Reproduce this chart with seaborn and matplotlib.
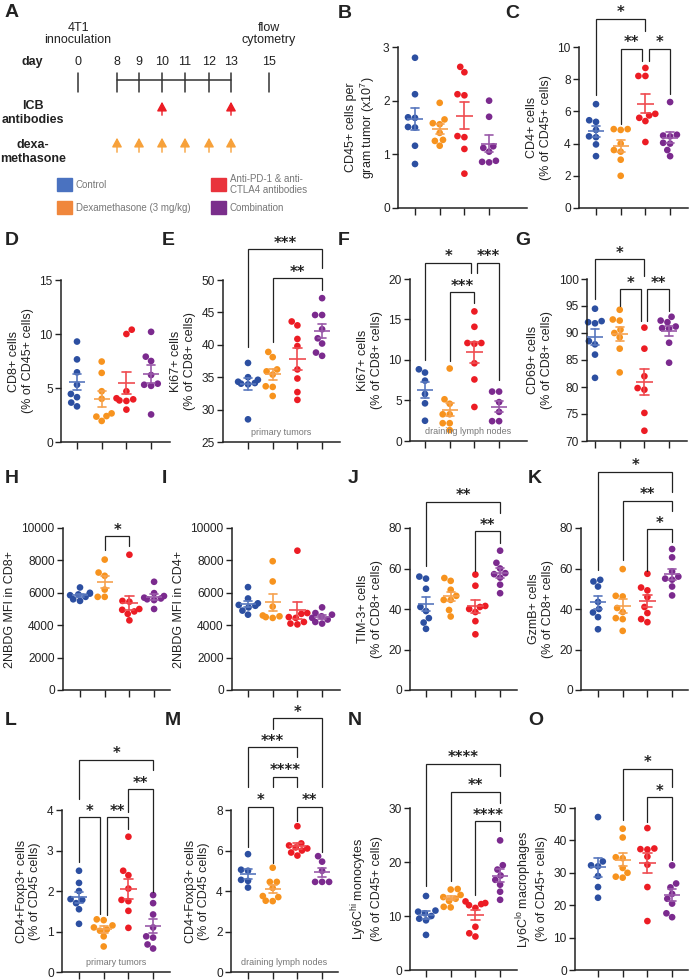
import numpy as np
import pandas as pd
import matplotlib
matplotlib.use("Agg")
import matplotlib.pyplot as plt
import seaborn as sns

sns.set_style("ticks")
plt.rcParams["font.family"] = ["Liberation Sans", "DejaVu Sans"]
plt.rcParams["mathtext.default"] = "regular"

groups = ["Control", "Dexamethasone", "Antibodies", "Combination"]
dot_colors = ["#2c4fa1", "#f7931e", "#ec1c24", "#7b2a8e"]
bar_colors = ["#5877bd", "#f6a24f", "#ef4b50", "#9a5aa9"]
key_colors = ["#4a72c0", "#f0873c", "#e9333c", "#7a2e8b"]

# ---- panel A schedule
days = [0, 8, 9, 10, 11, 12, 13, 15]
icb_days = [10, 13]
dex_days = [8, 9, 10, 11, 12, 13]
key_labels = ["Control", "Dexamethasone (3 mg/kg)",
              "Anti-PD-1 & anti-\nCTLA4 antibodies", "Combination"]

# ---- values per group: control, dex, antibodies, combination
cd45 = [[2.80, 2.12, 1.69, 1.68, 1.51, 1.50, 1.16, 0.82],
        [1.96, 1.65, 1.58, 1.56, 1.40, 1.27, 1.25, 1.16],
        [2.63, 2.53, 2.12, 2.10, 1.34, 1.32, 1.10, 0.64],
        [2.00, 1.70, 1.15, 1.12, 1.05, 0.88, 0.86, 0.85]]
cd4 = [[6.45, 5.45, 5.35, 4.85, 4.45, 4.40, 3.95, 3.22],
       [4.90, 4.90, 4.85, 4.00, 3.60, 3.50, 3.00, 2.00],
       [8.70, 8.20, 8.20, 5.85, 5.75, 5.60, 5.40, 4.10],
       [6.58, 4.55, 4.50, 4.45, 4.05, 4.00, 3.60, 3.22]]
cd8 = [[9.30, 7.65, 6.45, 5.30, 4.45, 4.15, 3.65, 3.30],
       [7.45, 6.40, 4.70, 4.00, 2.65, 2.40, 2.35, 1.95],
       [10.4, 10.0, 4.70, 4.05, 3.95, 3.85, 3.80, 3.00],
       [10.2, 7.90, 7.50, 6.20, 5.40, 5.30, 5.20, 2.55]]
ki67_tumor = [[37.2, 35.0, 34.6, 34.3, 34.1, 34.0, 33.9, 28.5],
              [38.9, 38.1, 36.2, 35.9, 35.4, 33.6, 33.5, 32.1],
              [43.6, 43.0, 40.9, 39.8, 36.2, 34.8, 32.7, 31.5],
              [47.2, 44.6, 44.6, 42.4, 41.0, 40.2, 38.8, 38.3]]
ki67_ln = [[8.45, 8.85, 7.45, 5.80, 4.65, 2.50],
           [8.95, 5.15, 4.60, 3.30, 3.30, 2.20, 2.20, 1.35],
           [16.0, 14.1, 12.1, 12.1, 12.0, 9.60, 7.60, 4.20],
           [6.10, 6.10, 4.80, 3.60, 2.45, 2.45]]
cd69 = [[94.5, 92.2, 92.0, 91.8, 88.5, 87.9, 86.0, 81.7],
        [94.3, 92.5, 92.3, 90.6, 90.0, 89.2, 87.1, 82.7],
        [91.0, 87.1, 82.0, 79.8, 79.5, 75.2, 71.9],
        [93.0, 92.3, 92.0, 91.2, 90.9, 90.8, 88.2, 84.5]]
nbdg_cd8 = [[6330, 6000, 5950, 5900, 5850, 5750, 5600, 5500],
            [8050, 7250, 7050, 6200, 5750, 5750],
            [8350, 5500, 5450, 5000, 4950, 4850, 4700, 4300],
            [6680, 5980, 5800, 5700, 5650, 5600, 5550, 5000]]
nbdg_cd4 = [[6350, 5650, 5350, 5250, 5200, 5100, 4900, 4650],
            [7950, 6700, 5150, 4600, 4550, 4500, 4450],
            [8600, 4750, 4700, 4500, 4450, 4200, 4100, 4050],
            [5100, 4750, 4650, 4550, 4450, 4350, 4200, 4100]]
tim3 = [[56.0, 55.0, 50.0, 41.0, 39.0, 35.5, 33.3, 30.2],
        [55.3, 53.9, 49.5, 46.5, 44.5, 44.5, 39.5, 36.3],
        [57.0, 51.5, 41.5, 41.0, 40.0, 38.5, 34.0, 27.5],
        [68.8, 62.8, 60.0, 57.7, 57.2, 55.5, 52.0, 47.8]]
gzmb = [[54.4, 53.6, 51.1, 43.5, 40.0, 38.3, 36.0, 30.0],
        [59.7, 46.5, 46.2, 40.5, 38.5, 35.5, 35.0, 29.2],
        [57.4, 50.6, 49.2, 45.9, 41.0, 38.0, 35.0, 33.5],
        [69.6, 65.5, 58.5, 56.0, 55.0, 54.5, 51.1, 46.7]]
treg_tumor = [[2.50, 2.20, 2.00, 1.80, 1.78, 1.70, 1.55, 1.19],
              [1.30, 1.28, 1.15, 1.10, 1.05, 1.02, 0.88, 0.63],
              [3.34, 2.50, 2.39, 2.06, 1.78, 1.75, 1.51, 1.09],
              [1.90, 1.70, 1.42, 1.10, 0.88, 0.85, 0.68, 0.58]]
treg_ln = [[5.82, 5.05, 5.00, 4.55, 4.50, 4.17],
           [5.15, 4.45, 4.45, 4.15, 3.75, 3.70, 3.52, 3.50],
           [7.20, 6.35, 6.25, 6.15, 6.10, 6.00, 5.90, 5.75],
           [5.72, 5.45, 5.00, 4.45, 4.45, 4.45]]
ly6c_hi = [[13.7, 11.0, 10.8, 10.5, 10.0, 9.5, 9.2, 6.5],
           [15.0, 14.9, 13.9, 13.5, 13.2, 12.8, 11.7, 11.6],
           [12.7, 12.4, 12.2, 12.0, 11.5, 8.0, 6.8, 6.2],
           [24.0, 19.4, 18.6, 17.5, 16.7, 15.8, 14.5, 13.0]]
ly6c_lo = [[47.2, 33.5, 32.3, 32.0, 29.0, 25.6, 22.3],
           [43.6, 40.9, 34.8, 34.5, 31.5, 30.0, 28.8, 28.5],
           [43.8, 37.5, 37.3, 37.2, 35.0, 32.5, 25.6, 15.1],
           [32.3, 26.7, 25.5, 23.5, 22.0, 20.5, 17.5, 16.3]]

# significance brackets: (label, from group, to group, top, left leg end, right leg end)
sig_c = [("*", 0, 2, 11.75, 7.0, 11.0), ("**", 1, 1.87, 9.9, 5.2, 9.15),
         ("*", 2.13, 3, 9.9, 9.15, 7.1)]
sig_e = [("***", 0, 3, 54.8, 39.7, 51.9), ("**", 1, 3, 50.3, 40.5, 48.5)]
sig_f = [("*", 0, 1.87, 22.0, 10.0, 20.7), ("***", 2.12, 3, 22.0, 20.7, 7.5),
         ("***", 1, 2, 18.35, 9.9, 17.0)]
sig_g = [("*", 0, 2, 103.7, 96.3, 100.5), ("*", 1, 1.88, 98.1, 95.0, 92.2),
         ("**", 2.12, 3, 98.1, 92.2, 94.1)]
sig_h = [("*", 1, 2, 9485, 8660, 8870)]
sig_j = [("**", 0, 3, 92.9, 61.0, 87.4), ("**", 2, 3, 78.4, 58.6, 72.6)]
sig_k = [("*", 0, 3, 107.8, 59.3, 97.9), ("**", 1, 3, 93.5, 64.2, 88.5),
         ("*", 2, 3, 79.4, 58.8, 73.2)]
sig_l = [("*", 0, 3, 5.24, 4.26, 4.99), ("**", 2, 3, 4.52, 3.95, 1.98),
         ("*", 0, 0.85, 3.82, 2.72, 1.44), ("**", 1.12, 2, 3.82, 1.40, 3.52)]
sig_m = [("*", 1, 3, 12.52, 11.98, 9.16), ("***", 0, 2, 11.09, 9.16, 10.64),
         ("****", 1, 2, 9.65, 9.16, 9.16), ("*", 0, 1, 8.17, 6.19, 5.4),
         ("**", 2, 3, 8.17, 7.47, 5.94)]
sig_n = [("****", 0, 3, 38.2, 15.5, 35.9), ("**", 1, 3, 33.0, 16.4, 30.9),
         ("****", 2, 3, 27.6, 13.9, 25.7)]
sig_o = [("*", 1, 3, 62.1, 46.2, 56.5), ("*", 2, 3, 53.4, 45.7, 33.9)]

W, H = 690, 980
fig = plt.figure(figsize=(W / 100, H / 100), dpi=100)
ink = "#222222"
grey = "#777777"

# full-figure overlay in pixel coordinates (panel A and letters)
ov = fig.add_axes([0, 0, 1, 1])
ov.set_xlim(0, W)
ov.set_ylim(H, 0)
ov.axis("off")

# ---- panel A
day_px = [78, 117, 139, 162, 185, 209, 231, 269]
xpos = dict(zip(days, day_px))
ov.text(78, 34, "4T1\ninnoculation", ha="center", va="center", fontsize=9, color=ink, linespacing=1.1)
ov.text(269, 34, "flow\ncytometry", ha="center", va="center", fontsize=9, color=ink, linespacing=1.1)
ov.text(32, 62, "day", ha="center", va="center", fontsize=9, weight="bold", color=ink)
for d in days:
    ov.text(xpos[d], 62, str(d), ha="center", va="center", fontsize=9, color=ink)
    ov.plot([xpos[d], xpos[d]], [73, 92], color="#333333", lw=1.1)
ov.plot([xpos[8], xpos[13]], [80, 80], color="#333333", lw=1.1)
ov.text(33, 113, "ICB\nantibodies", ha="center", va="center", fontsize=9, weight="bold", color=ink, linespacing=1.15)
ov.text(33, 152, "dexa-\nmethasone", ha="center", va="center", fontsize=9, weight="bold", color=ink, linespacing=1.15)
for d in icb_days:
    ov.annotate("", xy=(xpos[d], 99), xytext=(xpos[d], 118),
                arrowprops=dict(arrowstyle="-|>,head_length=0.55,head_width=0.3", color="#ec1c24", lw=1.0))
for d in dex_days:
    ov.annotate("", xy=(xpos[d], 135), xytext=(xpos[d], 155),
                arrowprops=dict(arrowstyle="-|>,head_length=0.55,head_width=0.3", color="#f7a13a", lw=1.0))
key_pos = [(57, 178), (57, 201), (211, 178), (211, 201)]
for (kx, ky), kc, kl in zip(key_pos, key_colors, key_labels):
    ov.add_patch(plt.Rectangle((kx, ky), 15, 13, color=kc))
    ov.text(kx + 19, ky + 6.5, kl, ha="left", va="center", fontsize=7, color=grey, linespacing=1.15)

letters = {"A": (5, 17), "B": (338, 18), "C": (505, 18), "D": (5, 245), "E": (162, 245),
           "F": (338, 245), "G": (515, 245), "H": (5, 483), "I": (162, 483), "J": (348, 483),
           "K": (528, 483), "L": (5, 725), "M": (165, 725), "N": (348, 725), "O": (528, 725)}
for k, (lx, ly) in letters.items():
    ov.text(lx, ly, k, ha="left", va="baseline", fontsize=14, weight="bold", color=ink)

# ---- scatter panels
step = 24.7
layout = {  # y-axis x, first tick x, axis end x, top y, bottom y (pixels)
    "B": (398, 415, 527, 47, 208), "C": (579, 596, 688, 47, 208),
    "D": (61, 77, 170, 280, 442), "E": (223, 248, 340, 280, 442),
    "F": (410, 425, 527, 279, 441), "G": (587, 595, 687, 279, 441),
    "H": (63, 80, 170, 528, 690), "I": (232, 248, 340, 528, 690),
    "J": (410, 426, 517, 528, 690), "K": (581, 598, 688, 528, 690),
    "L": (62, 79, 170, 810, 972), "M": (231, 248, 338, 810, 972),
    "N": (410, 426, 517, 808, 970), "O": (575, 598, 688, 808, 970),
}

panels = [
    ("B", cd45, "CD45+ cells per\ngram tumor (x10$^{7}$)", np.arange(0, 3.1, 1), [], None),
    ("C", cd4, "CD4+ cells\n(% of CD45+ cells)", np.arange(0, 10.1, 2), sig_c, None),
    ("D", cd8, "CD8+ cells\n(% of CD45+ cells)", np.arange(0, 15.1, 5), [], None),
    ("E", ki67_tumor, "Ki67+ cells\n(% of CD8+ cells)", np.arange(25, 50.1, 5), sig_e, "primary tumors"),
    ("F", ki67_ln, "Ki67+ cells\n(% of CD8+ cells)", np.arange(0, 20.1, 5), sig_f, "draining lymph nodes"),
    ("G", cd69, "CD69+ cells\n(% of CD8+ cells)", np.arange(70, 100.1, 5), sig_g, None),
    ("H", nbdg_cd8, "2NBDG MFI in CD8+", np.arange(0, 10001, 2000), sig_h, None),
    ("I", nbdg_cd4, "2NBDG MFI in CD4+", np.arange(0, 10001, 2000), [], None),
    ("J", tim3, "TIM-3+ cells\n(% of CD8+ cells)", np.arange(0, 81, 20), sig_j, None),
    ("K", gzmb, "GzmB+ cells\n(% of CD8+ cells)", np.arange(0, 81, 20), sig_k, None),
    ("L", treg_tumor, "CD4+Foxp3+ cells\n(% of CD45 cells)", np.arange(0, 4.1, 1), sig_l, "primary tumors"),
    ("M", treg_ln, "CD4+Foxp3+ cells\n(% of CD45 cells)", np.arange(0, 8.1, 2), sig_m, "draining lymph nodes"),
    ("N", ly6c_hi, "Ly6C$^{hi}$ monocytes\n(% of CD45+ cells)", np.arange(0, 30.1, 10), sig_n, None),
    ("O", ly6c_lo, "Ly6C$^{lo}$ macrophages\n(% of CD45+ cells)", np.arange(0, 50.1, 10), sig_o, None),
]

for name, values, ylabel, yticks, sigs, note in panels:
    x_axis, t0, x_end, top, bottom = layout[name]
    ax = fig.add_axes([x_axis / W, 1 - bottom / H, (x_end - x_axis) / W, (bottom - top) / H])
    ax.patch.set_alpha(0)
    df = pd.DataFrame({"group": np.repeat(groups, [len(v) for v in values]),
                       "value": np.concatenate(values)})
    sns.swarmplot(data=df, x="group", y="value", hue="group", order=groups, hue_order=groups,
                  palette=dot_colors, size=4.8, ax=ax, legend=False, clip_on=False, zorder=2)
    for i, v in enumerate(values):
        m = np.mean(v)
        se = np.std(v, ddof=1) / np.sqrt(len(v))
        lc = bar_colors[i]
        ax.plot([i - 0.33, i + 0.33], [m, m], color=lc, lw=1.2, zorder=3, solid_capstyle="butt")
        ax.plot([i, i], [m - se, m + se], color=lc, lw=1.2, zorder=3)
        ax.plot([i - 0.17, i + 0.17], [m - se, m - se], color=lc, lw=1.2, zorder=3)
        ax.plot([i - 0.17, i + 0.17], [m + se, m + se], color=lc, lw=1.2, zorder=3)
    for lab, g1, g2, ytop, y1, y2 in sigs:
        ax.plot([g1, g1, g2, g2], [y1, ytop, ytop, y2], color=ink, lw=0.9, clip_on=False,
                solid_joinstyle="miter")
        ax.annotate(lab, xy=((g1 + g2) / 2, ytop), xytext=(0, 1), textcoords="offset points",
                    ha="center", va="baseline", fontsize=10.5, weight="bold", color=ink,
                    family="DejaVu Sans", annotation_clip=False)
    ax.set_xlim(-(t0 - x_axis) / step, (x_end - t0) / step)
    ax.set_ylim(yticks[0], yticks[-1])
    ax.set_yticks(yticks)
    ax.set_yticklabels([f"{t:g}" for t in yticks])
    ax.set_xticks(range(4))
    ax.set_xticklabels([])
    ax.set_xlabel("")
    ax.set_ylabel(ylabel, fontsize=9, color=ink, linespacing=1.2)
    ax.tick_params(axis="y", labelsize=8.6, length=4, width=1, colors=ink, pad=2)
    ax.tick_params(axis="x", length=5, width=1, colors=ink)
    for s in ["top", "right"]:
        ax.spines[s].set_visible(False)
    for s in ["left", "bottom"]:
        ax.spines[s].set_linewidth(1.1)
        ax.spines[s].set_color(ink)
    if note:
        ax.text(0.5, 0.03, note, transform=ax.transAxes, ha="center", va="bottom",
                fontsize=6.5, color=grey)

fig.savefig("out.png", dpi=100)
